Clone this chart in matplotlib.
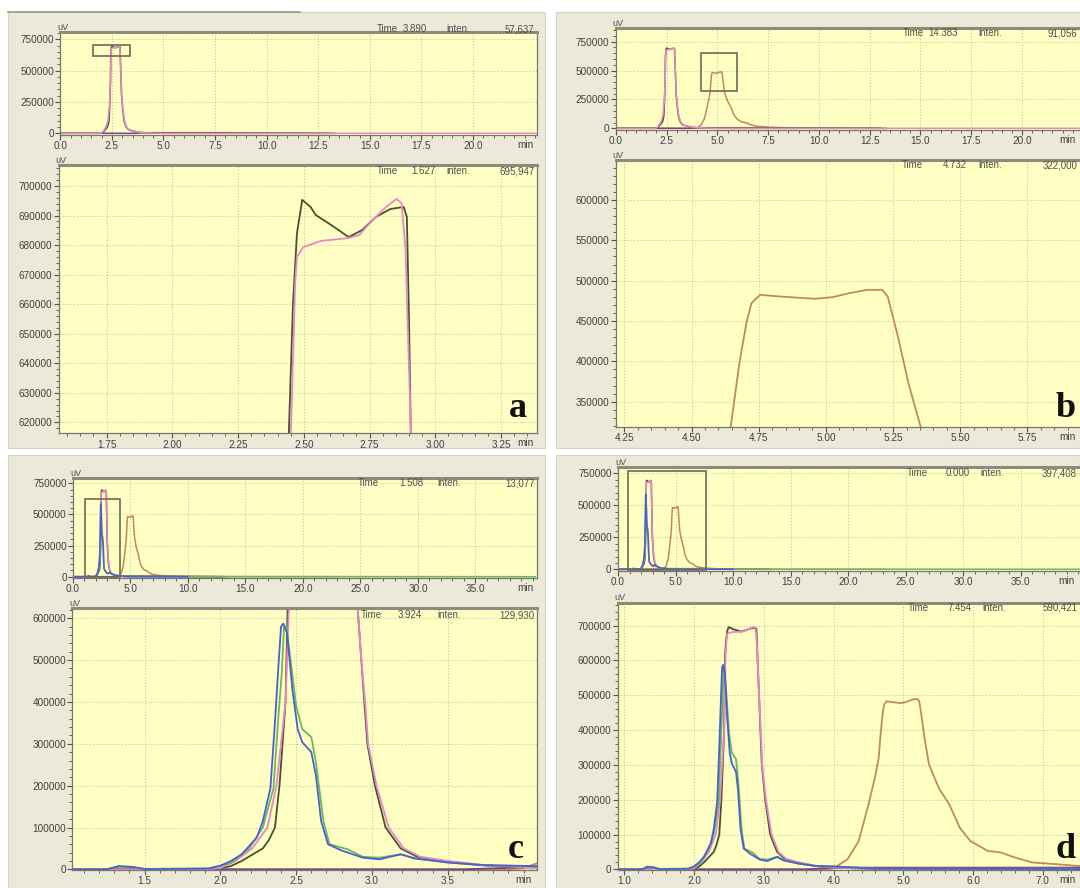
import matplotlib
matplotlib.use("Agg")
import matplotlib.pyplot as plt
from matplotlib.patches import Rectangle
from matplotlib.ticker import MultipleLocator, FormatStrFormatter
import matplotlib.transforms as mtransforms

plt.rcParams['font.family'] = ['Liberation Sans', 'DejaVu Sans']

W, H = 1080, 888

# chromatogram traces (time in min, signal in uV)
dark_t = [0.0, 1.9, 2.0, 2.07, 2.14, 2.21, 2.28, 2.32, 2.36, 2.39, 2.43, 2.443, 2.459, 2.474, 2.494,
          2.526, 2.545, 2.604, 2.671, 2.722, 2.774, 2.829, 2.880, 2.892, 2.900, 2.907, 2.93,
          2.95, 2.97, 3.02, 3.09, 3.19, 3.30, 3.48, 3.73, 4.0, 4.5, 5.0, 13.3]
dark_v = [0, 0, 2000, 8000, 20000, 35000, 50000, 70000, 100000, 200000, 400000, 616000, 660300,
          684000, 695300, 692900, 690200, 686800, 682700, 685100, 689500, 692200, 692900, 689500,
          655600, 616000, 500000, 400000, 300000, 200000, 100000, 50000, 30000, 20000, 10000, 5000,
          2000, 0, 0]

pink_t = [0.0, 1.9, 2.0, 2.10, 2.21, 2.31, 2.37, 2.43, 2.451, 2.467, 2.474, 2.498, 2.565, 2.671,
          2.711, 2.762, 2.813, 2.852, 2.872, 2.887, 2.900, 2.908, 2.93, 2.955, 2.975, 3.03, 3.11,
          3.21, 3.32, 3.50, 3.75, 4.0, 4.5, 5.0, 23.2]
pink_v = [0, 0, 3000, 20000, 50000, 100000, 200000, 400000, 616000, 667000, 676000, 679300, 681400,
          682400, 683400, 688500, 692900, 695600, 694200, 678300, 638600, 616000, 500000, 400000,
          300000, 200000, 100000, 50000, 30000, 20000, 10000, 5000, 2000, 0, 0]

blue_t = [0.0, 1.25, 1.33, 1.42, 1.5, 1.92, 2.0, 2.07, 2.14, 2.24, 2.28, 2.33, 2.36, 2.38, 2.40,
          2.415, 2.44, 2.475, 2.51, 2.54, 2.60, 2.63, 2.665, 2.71, 2.80, 2.94, 3.05, 3.19, 3.28,
          3.50, 3.73, 4.04, 4.6, 10.0]
blue_v = [0, 0, 8000, 6000, 1000, 2000, 9000, 20000, 36000, 75600, 115000, 193700, 351000, 469000,
          579500, 587000, 564000, 430000, 335000, 304000, 280000, 225000, 115000, 60000, 45000,
          28000, 24000, 36000, 26000, 16500, 10000, 8000, 2000, 0]

green_t = [0.0, 1.25, 1.33, 1.42, 1.5, 1.92, 2.0, 2.07, 2.19, 2.28, 2.35, 2.38, 2.405, 2.42, 2.435,
           2.46, 2.50, 2.54, 2.60, 2.63, 2.68, 2.72, 2.84, 2.94, 3.05, 3.19, 3.28, 3.50, 3.73,
           4.04, 4.6, 40.2]
green_v = [0, 0, 6000, 5000, 1000, 2000, 8000, 15000, 50000, 100000, 193000, 351000, 469000,
           580000, 580000, 509000, 390500, 335000, 316000, 257000, 115000, 60000, 48000, 30000,
           28000, 36000, 27000, 16500, 10000, 8000, 2000, 0]

orange_t = [0.0, 3.9, 4.0, 4.2, 4.36, 4.50, 4.60, 4.646, 4.678, 4.704, 4.723, 4.755, 4.832, 4.960,
            5.024, 5.088, 5.153, 5.210, 5.230, 5.268, 5.307, 5.352, 5.37, 5.51, 5.66, 5.81, 5.96,
            6.21, 6.40, 6.60, 6.85, 7.19, 7.49, 8.0, 9.0, 13.0]
orange_v = [0, 0, 3000, 29000, 81600, 186000, 270000, 319500, 397900, 447400, 472100, 482400,
            480300, 477500, 479500, 484500, 488600, 488600, 480300, 430800, 373100, 319500, 300000,
            233000, 186000, 119500, 81600, 53100, 48400, 34100, 19800, 15000, 10000, 6000, 3000, 0]

purple_t = [0.0, 3.6, 4.0, 8.0, 10.0, 13.0]
purple_v = [0, 0, 5000, 5000, 2000, 0]

traces = {
    'orange': (orange_t, orange_v, '#c28b55'),
    'purple': (purple_t, purple_v, '#7a3f90'),
    'dark': (dark_t, dark_v, '#46522f'),
    'pink': (pink_t, pink_v, '#ea86c4'),
    'green': (green_t, green_v, '#6cb85c'),
    'blue': (blue_t, blue_v, '#4a5fd0'),
}

# read-outs shown at the top of each plot
time_txt = {'a': ('3.890', '1.627'), 'b': ('14.383', '4.732'),
            'c': ('1.508', '3.924'), 'd': ('0.000', '7.454')}
inten_txt = {'a': ('57,637', '695,947'), 'b': ('91,056', '322,000'),
             'c': ('13,077', '129,930'), 'd': ('397,408', '590,421')}

panel_traces = {'a': ['purple', 'dark', 'pink'],
                'b': ['orange', 'purple', 'dark', 'pink'],
                'c': ['orange', 'purple', 'dark', 'pink', 'green', 'blue'],
                'd': ['orange', 'purple', 'dark', 'pink', 'green', 'blue']}

ov_xticks = {'a': [0, 2.5, 5, 7.5, 10, 12.5, 15, 17.5, 20],
             'b': [0, 2.5, 5, 7.5, 10, 12.5, 15, 17.5, 20],
             'c': [0, 5, 10, 15, 20, 25, 30, 35],
             'd': [0, 5, 10, 15, 20, 25, 30, 35]}
ov_yticks = [0, 250000, 500000, 750000]

zm_xticks = {'a': [1.75, 2.0, 2.25, 2.5, 2.75, 3.0, 3.25],
             'b': [4.25, 4.5, 4.75, 5.0, 5.25, 5.5, 5.75],
             'c': [1.5, 2.0, 2.5, 3.0, 3.5],
             'd': [1.0, 2.0, 3.0, 4.0, 5.0, 6.0, 7.0]}
zm_yticks = {'a': list(range(620000, 700001, 10000)),
             'b': list(range(350000, 600001, 50000)),
             'c': list(range(0, 600001, 100000)),
             'd': list(range(0, 700001, 100000))}

fig = plt.figure(figsize=(W / 100, H / 100), dpi=100, facecolor='white')


def box(l, t, r, b):
    return [l / W, 1 - b / H, (r - l) / W, (b - t) / H]


# beige panels behind the plots
for (l, t, r, b) in [(8, 12, 545, 448), (556, 12, 1080, 448),
                     (8, 455, 545, 888), (556, 455, 1080, 888)]:
    fig.patches.append(Rectangle((l / W, 1 - b / H), (r - l) / W, (b - t) / H,
                                 transform=fig.transFigure, facecolor='#ece9d8',
                                 edgecolor='#d8d4c0', lw=0.8, zorder=-5))
fig.lines.append(plt.Line2D([8 / W, 300 / W], [1 - 12 / H, 1 - 12 / H],
                            transform=fig.transFigure, color='#9a9888', lw=1.2, zorder=-4))


def style(ax, xticks, xfmt, xminor, yticks, yminor, xlim, ylim, info, dy, minx):
    ax.set_facecolor('#ffffc4')
    ax.set_xlim(*xlim)
    ax.set_ylim(*ylim)
    ax.set_xticks(xticks)
    ax.set_yticks(yticks)
    ax.xaxis.set_major_formatter(FormatStrFormatter(xfmt))
    ax.yaxis.set_major_formatter(FormatStrFormatter('%d'))
    ax.xaxis.set_minor_locator(MultipleLocator(xminor))
    ax.yaxis.set_minor_locator(MultipleLocator(yminor))
    ax.tick_params(which='major', direction='out', length=3.5, width=0.8, color='#555548',
                   labelsize=7.2, labelcolor='#404040', pad=1)
    ax.tick_params(which='minor', direction='out', length=2.2, width=0.7, color='#666655')
    ax.grid(True, which='major', color='#bdbda5', linestyle=(0, (1, 2)), linewidth=0.7)
    for s in ['left', 'bottom', 'right']:
        ax.spines[s].set_color('#77776a')
        ax.spines[s].set_linewidth(0.9)
    ax.spines['top'].set_color('#8c8c7c')
    ax.spines['top'].set_linewidth(2.2)
    ax.text(0, 1, 'uV', transform=mtransforms.offset_copy(ax.transAxes, fig, x=-3, y=5, units='dots'),
            fontsize=6.5, color='#505050', ha='left', va='center')
    ax.text(minx, 0, 'min', transform=mtransforms.offset_copy(ax.transAxes, fig, x=0, y=-5, units='dots'),
            fontsize=7.2, color='#404040', ha='center', va='top')
    tr = mtransforms.offset_copy(ax.transAxes, fig, x=0, y=-dy, units='dots')
    fx, tval, ix, ival, vx, nx = info
    kw = dict(transform=tr, fontsize=7, color='#505050', va='center', clip_on=False)
    ax.text(fx, 1, 'Time', ha='left', **kw)
    ax.text(vx, 1, tval, ha='right', **kw)
    ax.text(ix, 1, 'inten.', ha='left', **kw)
    ax.text(nx, 1, ival, ha='right', **kw)


def draw(ax, names, lw):
    for n in names:
        t, v, c = traces[n]
        ax.plot(t, v, color=c, lw=lw)


panels = {
    # overview box, zoom box, overview xlim/ylim, zoom xlim/ylim
    'a': dict(ov=(60.3, 32, 537, 135), zm=(58.5, 165, 537, 433.3),
              ovx=(0, 23.1), ovy=(-13500, 808000), zmx=(1.567, 3.387), zmy=(616300, 707100),
              zfmt='%.2f', zxm=0.05, zym=2000, ovxm=0.5,
              ovtxt=(0.664, 0.769, 0.809, 0.995), zmtxt=(0.666, 0.788, 0.81, 0.995),
              ovdy=-3, zmdy=6, ovmin=0.975, zmmin=0.975, lab=(518, 417)),
    'b': dict(ov=(615.8, 28.3, 1086, 130), zm=(615.8, 160, 1086, 426.7),
              ovx=(0, 23.15), ovy=(-14700, 866000), zmx=(4.218, 5.968), zmy=(319000, 649500),
              zfmt='%.2f', zxm=0.05, zym=10000, ovxm=0.5,
              ovtxt=(0.611, 0.728, 0.772, 0.982), zmtxt=(0.608, 0.747, 0.772, 0.982),
              ovdy=5, zmdy=5, ovmin=0.96, zmmin=0.96, lab=(1066, 417)),
    'c': dict(ov=(73, 478.3, 537, 578), zm=(72.3, 608.3, 537, 870),
              ovx=(0, 40.35), ovy=(-10400, 790000), zmx=(1.023, 4.089), zmy=(-1500, 623600),
              zfmt='%.1f', zxm=0.1, zym=20000, ovxm=1.0,
              ovtxt=(0.614, 0.755, 0.785, 0.995), zmtxt=(0.62, 0.752, 0.785, 0.995),
              ovdy=5, zmdy=7, ovmin=0.975, zmmin=0.97, lab=(516, 858)),
    'd': dict(ov=(618, 467.3, 1084, 571), zm=(617.5, 602.7, 1086, 870),
              ovx=(0, 40.5), ovy=(-13300, 797000), zmx=(0.90, 7.62), zmy=(-1800, 765500),
              zfmt='%.1f', zxm=0.2, zym=20000, ovxm=1.0,
              ovtxt=(0.62, 0.755, 0.778, 0.985), zmtxt=(0.62, 0.755, 0.778, 0.982),
              ovdy=6, zmdy=5, ovmin=0.963, zmmin=0.96, lab=(1066, 858)),
}

for key, p in panels.items():
    tv, zv = time_txt[key]
    iv, ziv = inten_txt[key]

    ax1 = fig.add_axes(box(*p['ov']))
    draw(ax1, panel_traces[key], 1.1)
    o = p['ovtxt']
    style(ax1, ov_xticks[key], '%.1f', p['ovxm'], ov_yticks, 50000, p['ovx'], p['ovy'],
          (o[0], tv, o[2], iv, o[1], o[3]), p['ovdy'], p['ovmin'])
    # zoom window marker
    zx, zy = p['zmx'], p['zmy']
    ax1.add_patch(Rectangle((zx[0], zy[0]), zx[1] - zx[0], zy[1] - zy[0], fill=False,
                            edgecolor='#6b6b55', lw=1.2, zorder=5))

    ax2 = fig.add_axes(box(*p['zm']))
    draw(ax2, panel_traces[key], 1.3)
    z = p['zmtxt']
    style(ax2, zm_xticks[key], p['zfmt'], p['zxm'], zm_yticks[key], p['zym'], zx, zy,
          (z[0], zv, z[2], ziv, z[1], z[3]), p['zmdy'], p['zmmin'])

    lx, ly = p['lab']
    fig.text(lx / W, 1 - ly / H, key, fontsize=26, fontweight='bold',
             family=['Liberation Serif', 'DejaVu Serif'], ha='center', va='baseline', color='#111111')

fig.savefig('out.png', dpi=100, facecolor=fig.get_facecolor())
